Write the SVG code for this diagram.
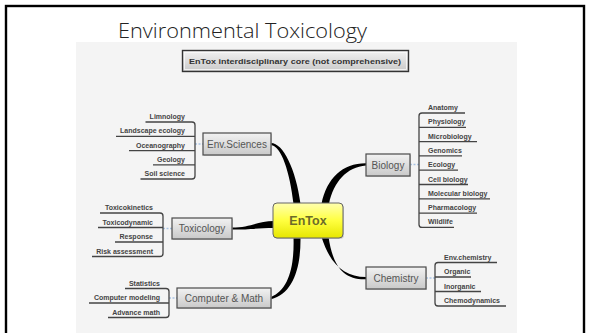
<svg xmlns="http://www.w3.org/2000/svg" width="590" height="333" viewBox="0 0 590 333">
<defs>
<linearGradient id="gbox" x1="0" y1="0" x2="0" y2="1"><stop offset="0" stop-color="#f2f2f2"/><stop offset="1" stop-color="#c9c9c9"/></linearGradient>
<linearGradient id="gyel" x1="0" y1="0" x2="0" y2="1"><stop offset="0" stop-color="#ffffb0"/><stop offset="0.5" stop-color="#ffff40"/><stop offset="1" stop-color="#e6e600"/></linearGradient>
</defs>
<style>
.box{fill:url(#gbox);stroke:#4a4a4a;stroke-width:1.2}
.shadow{fill:#bbb;opacity:0.6}
.blabel{font-family:"Liberation Sans",Arial,sans-serif;font-size:10px;fill:#555;text-anchor:middle}
.leaf{font-family:"Liberation Sans",Arial,sans-serif;font-size:7px;font-weight:bold;fill:#444}
.rt{text-anchor:end}
.br{fill:none;stroke:#444;stroke-width:1.3;stroke-linejoin:round}
.dot{stroke:#a9c3e3;stroke-width:1.5;stroke-dasharray:2 1.5}
.curve{fill:#000}
</style>
<rect x="0" y="0" width="590" height="333" fill="#fff"/>
<rect x="76" y="42" width="441" height="291" fill="#f4f4f4"/>
<rect x="6" y="6" width="578" height="340" fill="none" stroke="#000" stroke-width="2.4"/>
<text x="118" y="38" font-family="'Open Sans','Liberation Sans',sans-serif" font-weight="300" font-size="21" fill="#222" textLength="249" lengthAdjust="spacingAndGlyphs">Environmental Toxicology</text>

<g id="header">
<rect x="182.5" y="50.5" width="226" height="21" fill="url(#gbox)" stroke="#333" stroke-width="1.4"/>
<rect x="184.5" y="52.5" width="222" height="17" fill="none" stroke="#fafafa" stroke-width="0.8"/>
<text x="295" y="64" font-family="'Liberation Sans',Arial,sans-serif" font-size="8" font-weight="bold" fill="#333" text-anchor="middle" textLength="212" lengthAdjust="spacingAndGlyphs">EnTox interdisciplinary core (not comprehensive)</text>
</g>

<g id="connectors">
<path class="curve" d="M271,143 C283,143 296,169 300.5,204 L293.5,204 C290,172 281,145.2 271,145.2 Z"/>
<path class="curve" d="M321.5,204 C326.5,178 343,163 366,163.2 L366,165.6 C347,167 333.5,182 329,204 Z"/>
<path class="curve" d="M232,227.6 C250,227.6 258,221 274,221 L274,228 C258,228 250,229.6 232,229.6 Z"/>
<path class="curve" d="M293.5,237 C294.5,268 288,290 271,297 L271,299.2 C292,294 301,270 300.5,237 Z"/>
<path class="curve" d="M321.5,237 C330,264 344,277 366,277 L366,279.3 C343,280 333,266 328.5,237 Z"/>
<line class="dot" x1="195" y1="144" x2="203" y2="144"/>
<line class="dot" x1="410" y1="164.5" x2="419" y2="164.5"/>
<line class="dot" x1="163" y1="228.5" x2="172" y2="228.5"/>
<line class="dot" x1="169" y1="298" x2="177" y2="298"/>
<line class="dot" x1="426" y1="278" x2="435" y2="278"/>
</g>

<g id="entox">
<rect x="274" y="204" width="70" height="35" rx="4" fill="#aaa" opacity="0.5"/>
<rect x="273" y="203" width="70" height="35" rx="4" fill="url(#gyel)" stroke="#666" stroke-width="1"/>
<text x="308" y="225" font-family="'Liberation Sans',Arial,sans-serif" font-size="12.5" font-weight="bold" fill="#6b6b2a" text-anchor="middle">EnTox</text>
</g>

<g id="envsciences">
<rect class="shadow" x="204" y="134" width="68" height="22"/>
<rect class="box" x="203" y="133" width="68" height="22"/>
<text class="blabel" x="237" y="147.5">Env.Sciences</text>
</g>
<g id="envsciences-leaves">
<path class="br" d="M145.5,122 H192 Q195,122 195,125 V176 Q195,179 192,179 H140.5"/>
<path class="br" d="M116,136.3 H195 M129,150.6 H195 M153,164.8 H195"/>
<text class="leaf rt" x="185" y="119">Limnology</text>
<text class="leaf rt" x="185" y="133.3">Landscape ecology</text>
<text class="leaf rt" x="185" y="147.6">Oceanography</text>
<text class="leaf rt" x="185" y="161.8">Geology</text>
<text class="leaf rt" x="185" y="176">Soil science</text>
</g>

<g id="biology">
<rect class="shadow" x="367" y="155" width="44" height="22"/>
<rect class="box" x="366" y="154" width="44" height="22"/>
<text class="blabel" x="388" y="168.5">Biology</text>
</g>
<g id="biology-leaves">
<path class="br" d="M465,113 H422 Q419,113 419,116 V224.4 Q419,227.4 422,227.4 H454"/>
<path class="br" d="M419,127.3 H466 M419,141.6 H477 M419,155.9 H462 M419,170.2 H458 M419,184.5 H468 M419,198.8 H490 M419,213.1 H477"/>
<text class="leaf" x="428" y="110">Anatomy</text>
<text class="leaf" x="428" y="124.3">Physiology</text>
<text class="leaf" x="428" y="138.6">Microbiology</text>
<text class="leaf" x="428" y="152.9">Genomics</text>
<text class="leaf" x="428" y="167.2">Ecology</text>
<text class="leaf" x="428" y="181.5">Cell biology</text>
<text class="leaf" x="428" y="195.8">Molecular biology</text>
<text class="leaf" x="428" y="210.1">Pharmacology</text>
<text class="leaf" x="428" y="224.4">Wildlife</text>
</g>

<g id="toxicology">
<rect class="shadow" x="173" y="219" width="60" height="21"/>
<rect class="box" x="172" y="218" width="60" height="21"/>
<text class="blabel" x="202" y="232">Toxicology</text>
</g>
<g id="toxicology-leaves">
<path class="br" d="M100,213 H160 Q163,213 163,216 V253.5 Q163,256.5 160,256.5 H92"/>
<path class="br" d="M98,227.5 H163 M115,242 H163"/>
<text class="leaf rt" x="153" y="210">Toxicokinetics</text>
<text class="leaf rt" x="153" y="224.5">Toxicodynamic</text>
<text class="leaf rt" x="153" y="239">Response</text>
<text class="leaf rt" x="153" y="253.5">Risk assessment</text>
</g>

<g id="compmath">
<rect class="shadow" x="178" y="289" width="94" height="20"/>
<rect class="box" x="177" y="288" width="94" height="20"/>
<text class="blabel" x="224" y="301.5">Computer &amp; Math</text>
</g>
<g id="compmath-leaves">
<path class="br" d="M125,288.5 H166 Q169,288.5 169,291.5 V314.5 Q169,317.5 166,317.5 H108"/>
<path class="br" d="M89,303 H169"/>
<text class="leaf rt" x="160" y="285.5">Statistics</text>
<text class="leaf rt" x="160" y="300">Computer modeling</text>
<text class="leaf rt" x="160" y="314.5">Advance math</text>
</g>

<g id="chemistry">
<rect class="shadow" x="367" y="268" width="60" height="22"/>
<rect class="box" x="366" y="267" width="60" height="22"/>
<text class="blabel" x="396" y="281.5">Chemistry</text>
</g>
<g id="chemistry-leaves">
<path class="br" d="M497,262.5 H438 Q435,262.5 435,265.5 V303 Q435,306 438,306 H506"/>
<path class="br" d="M435,277 H471 M435,291.5 H481"/>
<text class="leaf" x="444" y="259.5">Env.chemistry</text>
<text class="leaf" x="444" y="274">Organic</text>
<text class="leaf" x="444" y="288.5">Inorganic</text>
<text class="leaf" x="444" y="303">Chemodynamics</text>
</g>
</svg>
